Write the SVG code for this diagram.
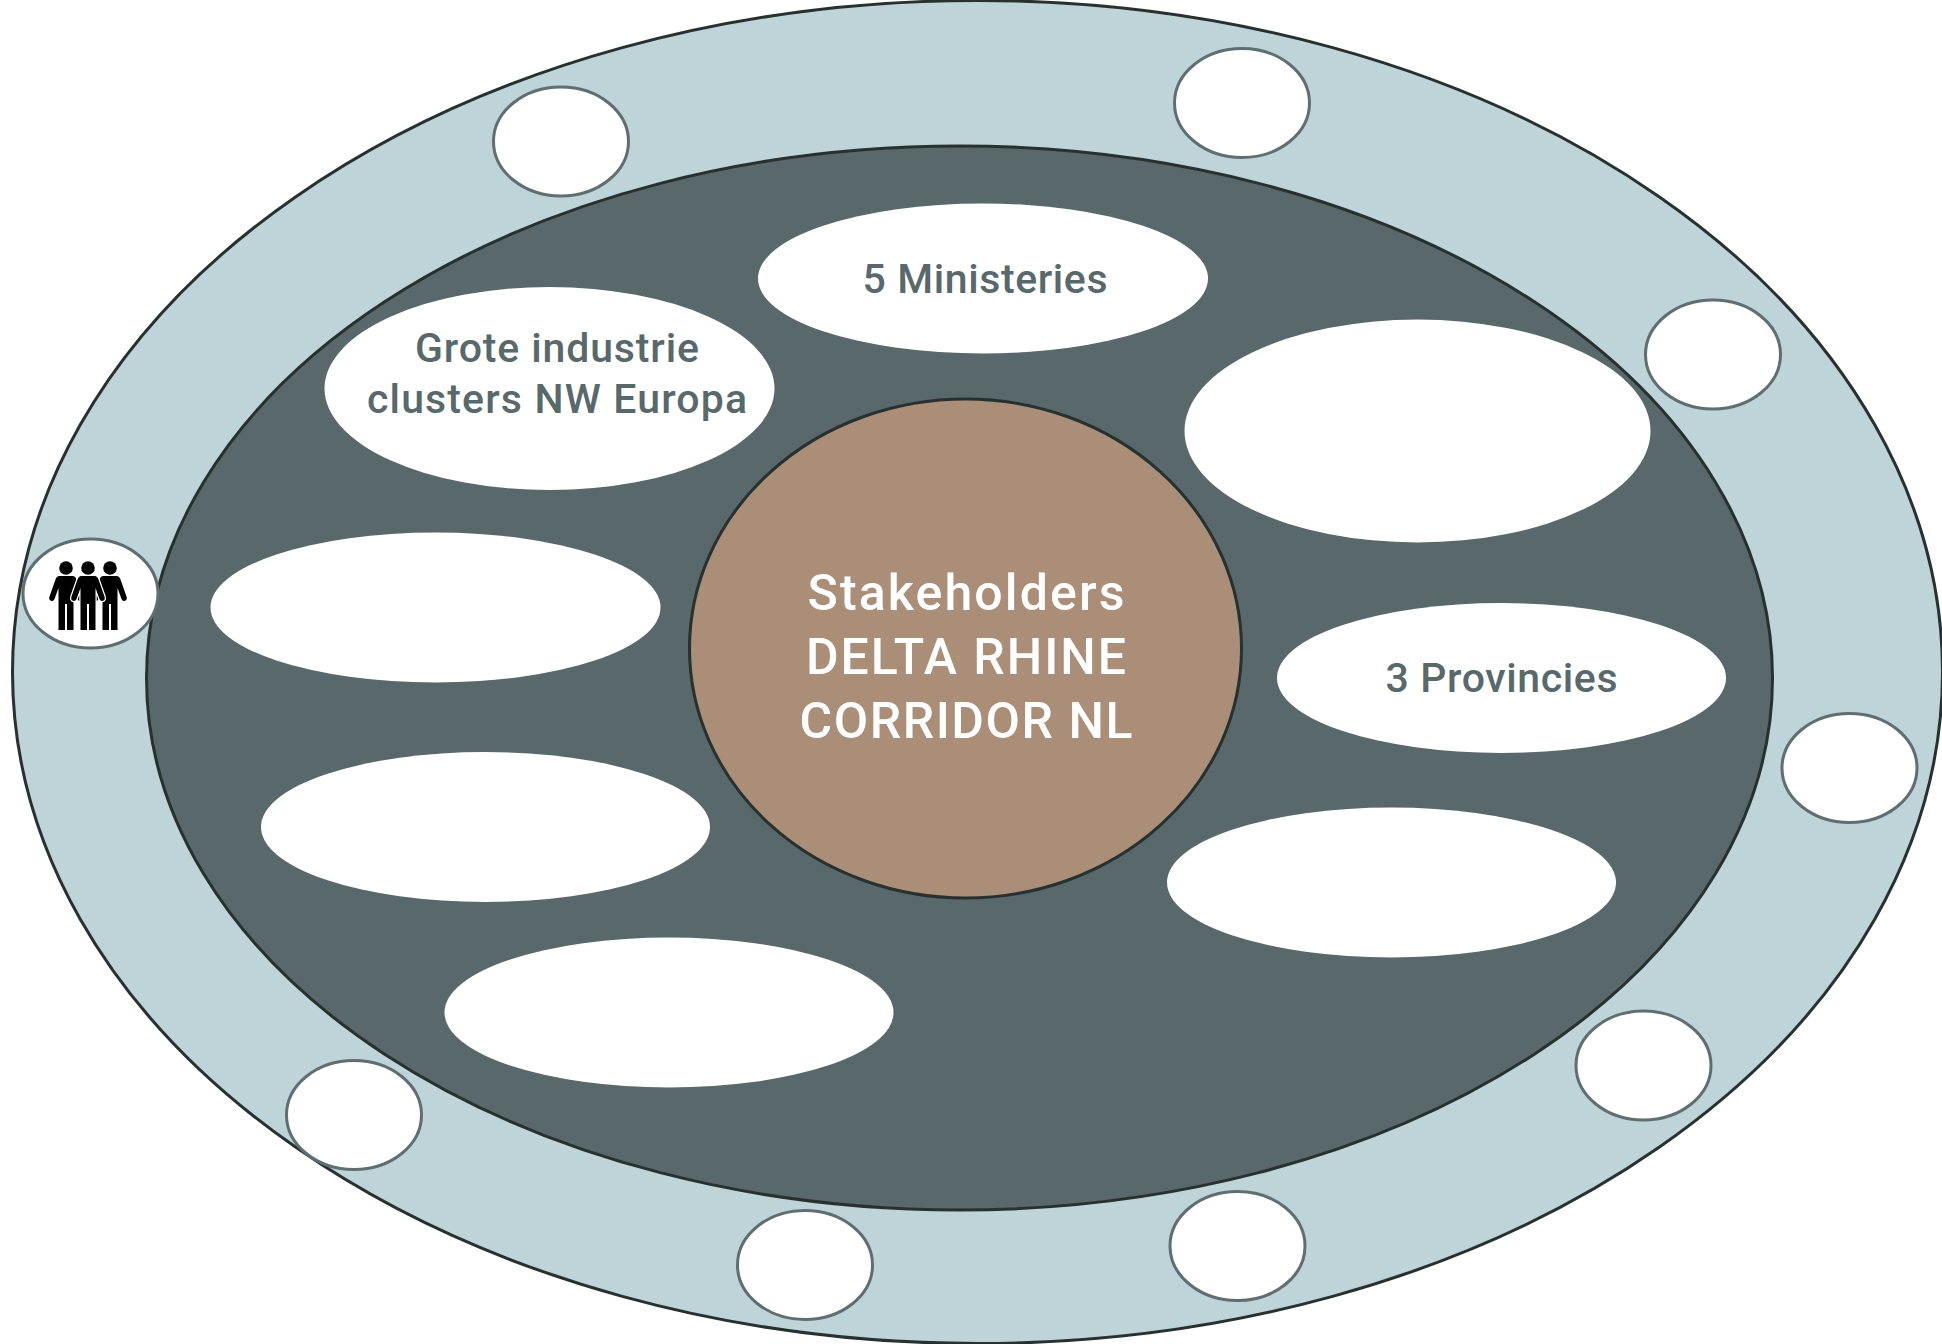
<svg xmlns="http://www.w3.org/2000/svg" width="1942" height="1344" viewBox="0 0 1942 1344">
<style>
.ring{stroke:#27312f;stroke-width:3}
.w{fill:#fff}
.s{fill:#fff;stroke:#5f6f71;stroke-width:3}
text{font-family:"Roboto","Liberation Sans",sans-serif;text-anchor:middle;font-weight:500}
.c{font-size:50px;fill:#fff}
.l{font-size:41px;fill:#58686b}
</style>
<defs>
<g id="person"><circle cx="88" cy="568" r="6.800"/><path d="M81.500 576H94.500Q97.500 576 98.500 579.500L104.500 596.500Q105.500 600 103 600.700Q100.500 601.500 99.500 599L95.500 588V630H89V604H87V630H80.500V588L76.500 599Q75.500 601.500 73 600.700Q70.500 600 71.500 596.500L77.500 579.500Q78.500 576 81.500 576Z"/></g>
</defs>
<rect width="1942" height="1344" fill="#fff"/>
<g id="outer"><ellipse cx="977.500" cy="672" rx="965" ry="671.500" fill="#bfd4d9" class="ring"/></g>
<g id="inner"><ellipse cx="959.500" cy="678" rx="813" ry="532" fill="#58686b" class="ring"/></g>
<g id="center"><ellipse cx="965.500" cy="648.500" rx="276" ry="249.500" fill="#ab8e78" class="ring"/>
<text class="c" x="966" y="610" textLength="317">Stakeholders</text>
<text class="c" x="966" y="674" textLength="320">DELTA RHINE</text>
<text class="c" x="966" y="738" textLength="333">CORRIDOR NL</text></g>
<g id="ministeries"><ellipse class="w" cx="983" cy="278.500" rx="225" ry="75"/><text class="l" x="985" y="293" textLength="245">5 Ministeries</text></g>
<g id="clusters"><ellipse class="w" cx="549.500" cy="388.500" rx="225" ry="101.500"/>
<text class="l" x="557" y="362" textLength="284">Grote industrie</text>
<text class="l" x="557" y="413" textLength="380">clusters NW Europa</text></g>
<g id="blank-right"><ellipse class="w" cx="1417.500" cy="431" rx="233" ry="111.500"/></g>
<g id="blank-left1"><ellipse class="w" cx="435.500" cy="607.500" rx="225" ry="75"/></g>
<g id="blank-left2"><ellipse class="w" cx="485.500" cy="827" rx="224.500" ry="75"/></g>
<g id="blank-bottom"><ellipse class="w" cx="669" cy="1012.500" rx="224.500" ry="75"/></g>
<g id="provincies"><ellipse class="w" cx="1501.500" cy="678" rx="224.500" ry="75"/><text class="l" x="1501.500" y="692" textLength="232">3 Provincies</text></g>
<g id="blank-lower-right"><ellipse class="w" cx="1391.500" cy="882.500" rx="224.500" ry="75"/></g>
<g id="sat1"><ellipse class="s" cx="561" cy="141.500" rx="67.500" ry="54.500"/></g>
<g id="sat2"><ellipse class="s" cx="1242" cy="103" rx="67.500" ry="54.500"/></g>
<g id="sat3"><ellipse class="s" cx="1713" cy="354.500" rx="67.500" ry="54.500"/></g>
<g id="sat4"><ellipse class="s" cx="1849.500" cy="768" rx="67.500" ry="54.500"/></g>
<g id="sat5"><ellipse class="s" cx="1643.500" cy="1065.500" rx="67.500" ry="54.500"/></g>
<g id="sat6"><ellipse class="s" cx="1237.500" cy="1246" rx="67.500" ry="54.500"/></g>
<g id="sat7"><ellipse class="s" cx="805" cy="1265" rx="67.500" ry="54.500"/></g>
<g id="sat8"><ellipse class="s" cx="354" cy="1115" rx="67.500" ry="54.500"/></g>
<g id="sat-people"><ellipse class="s" cx="90.500" cy="593.500" rx="67.500" ry="54.500"/>
<use href="#person" x="-22"/><use href="#person" x="22"/>
<use href="#person" stroke="#fff" stroke-width="2.500"/><use href="#person"/></g>
</svg>
